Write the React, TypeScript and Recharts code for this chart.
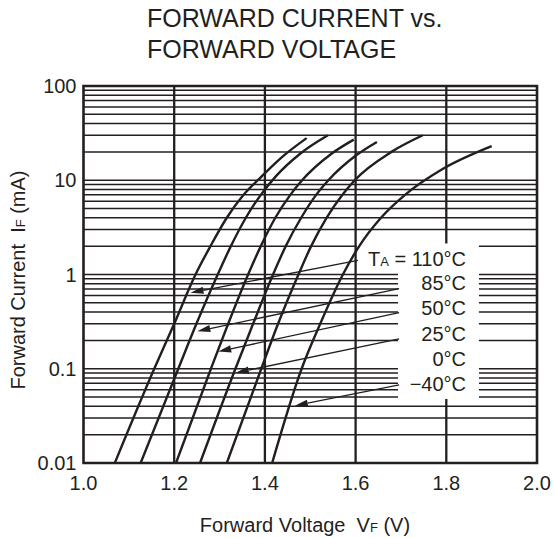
import { LineChart, Line, XAxis, YAxis, ReferenceLine, ReferenceArea } from "recharts";

const INK = "#231f20";
const FONT = "'Liberation Sans', Arial, Helvetica, sans-serif";

// axis ticks
const voltTicks = [1.0, 1.2, 1.4, 1.6, 1.8, 2.0];
const voltGrid = [1.2, 1.4, 1.6, 1.8];
const currentTicks = [0.01, 0.1, 1, 10, 100];
const currentGrid = [
  0.02, 0.03, 0.04, 0.05, 0.06, 0.07, 0.08, 0.09, 0.1,
  0.2, 0.3, 0.4, 0.5, 0.6, 0.7, 0.8, 0.9, 1,
  2, 3, 4, 5, 6, 7, 8, 9, 10,
  20, 30, 40, 50, 60, 70, 80, 90,
];

// forward voltage (V) vs forward current (mA), one array per ambient temperature
const ta110 = [
  { v: 1.069, i: 0.01 }, { v: 1.156, i: 0.1 }, { v: 1.2, i: 0.3 }, { v: 1.247, i: 1 },
  { v: 1.28, i: 2 }, { v: 1.316, i: 4 }, { v: 1.353, i: 7 }, { v: 1.393, i: 11 },
  { v: 1.437, i: 17.5 }, { v: 1.492, i: 28 },
];
const ta85 = [
  { v: 1.126, i: 0.01 }, { v: 1.209, i: 0.1 }, { v: 1.249, i: 0.3 }, { v: 1.296, i: 1 },
  { v: 1.325, i: 2 }, { v: 1.358, i: 4 }, { v: 1.391, i: 7 }, { v: 1.424, i: 11 },
  { v: 1.477, i: 19 }, { v: 1.539, i: 30 },
];
const ta50 = [
  { v: 1.204, i: 0.01 }, { v: 1.281, i: 0.1 }, { v: 1.319, i: 0.3 }, { v: 1.363, i: 1 },
  { v: 1.391, i: 2 }, { v: 1.423, i: 4 }, { v: 1.456, i: 7 }, { v: 1.482, i: 10 },
  { v: 1.546, i: 19 }, { v: 1.596, i: 27 },
];
const ta25 = [
  { v: 1.257, i: 0.01 }, { v: 1.335, i: 0.1 }, { v: 1.374, i: 0.3 }, { v: 1.418, i: 1 },
  { v: 1.446, i: 2 }, { v: 1.48, i: 4 }, { v: 1.513, i: 7 }, { v: 1.54, i: 10 },
  { v: 1.602, i: 18.5 }, { v: 1.647, i: 25.5 },
];
const ta0 = [
  { v: 1.316, i: 0.01 }, { v: 1.392, i: 0.1 }, { v: 1.429, i: 0.3 }, { v: 1.474, i: 1 },
  { v: 1.502, i: 2 }, { v: 1.536, i: 4 }, { v: 1.571, i: 7 }, { v: 1.598, i: 10 },
  { v: 1.679, i: 20 }, { v: 1.748, i: 30 },
];
const taMinus40 = [
  { v: 1.416, i: 0.01 }, { v: 1.481, i: 0.1 }, { v: 1.522, i: 0.3 }, { v: 1.572, i: 1 },
  { v: 1.608, i: 2 }, { v: 1.656, i: 4 }, { v: 1.709, i: 7 }, { v: 1.79, i: 13 },
  { v: 1.9, i: 23 },
];
const curves = [ta110, ta85, ta50, ta25, ta0, taMinus40];

// leader lines: label end -> arrow tip on the curve
const leaders = [
  [{ x: 1.605, y: 1.41 }, { x: 1.236, y: 0.64 }],
  [{ x: 1.696, y: 0.71 }, { x: 1.251, y: 0.25 }],
  [{ x: 1.696, y: 0.394 }, { x: 1.297, y: 0.152 }],
  [{ x: 1.696, y: 0.208 }, { x: 1.336, y: 0.0906 }],
  [{ x: 1.696, y: 0.0675 }, { x: 1.466, y: 0.0405 }],
];
const tempLabels = ["85°C", "50°C", "25°C", "0°C", "−40°C"];

const Leader = (props: any) => {
  const { x1, y1, x2, y2 } = props;
  const ang = Math.atan2(y2 - y1, x2 - x1);
  const len = 13;
  const half = 3.6;
  const bx = x2 - len * Math.cos(ang);
  const by = y2 - len * Math.sin(ang);
  const px = -Math.sin(ang) * half;
  const py = Math.cos(ang) * half;
  return (
    <g>
      <line x1={x1} y1={y1} x2={bx} y2={by} stroke={INK} strokeWidth={1.3} />
      <polygon points={`${x2},${y2} ${bx + px},${by + py} ${bx - px},${by - py}`} fill={INK} />
    </g>
  );
};

export default function App() {
  return (
    <div style={{ position: "absolute", left: 0, top: 0, width: 555, height: 538, background: "#fff" }}>
      <LineChart width={555} height={538} margin={{ top: 86, right: 18, left: 0, bottom: 0 }}>
        <XAxis
          type="number"
          dataKey="v"
          domain={[1, 2]}
          ticks={voltTicks}
          allowDataOverflow
          height={75}
          tickSize={0}
          tickMargin={13}
          axisLine={false}
          tickLine={false}
          tickFormatter={(v: number) => v.toFixed(1)}
          tick={{ fontSize: 20, fill: INK, fontFamily: FONT }}
        />
        <YAxis
          type="number"
          scale="log"
          domain={[0.01, 100]}
          ticks={currentTicks}
          allowDataOverflow
          width={83.5}
          tickSize={0}
          tickMargin={7}
          axisLine={false}
          tickLine={false}
          tickFormatter={(v: number) => String(v)}
          tick={{ fontSize: 20, fill: INK, fontFamily: FONT }}
        />
        {currentGrid.map((c) => (
          <ReferenceLine key={`h${c}`} y={c} stroke={INK} strokeWidth={1.5} zIndex={-60} />
        ))}
        {voltGrid.map((v) => (
          <ReferenceLine key={`v${v}`} x={v} stroke={INK} strokeWidth={2.3} zIndex={-50} />
        ))}
        <ReferenceArea x1={1.603} x2={1.872} y1={1.443} y2={2.137} fill="#fff" fillOpacity={1} stroke="none" zIndex={-40} />
        <ReferenceArea x1={1.6935} x2={1.872} y1={0.0479} y2={1.45} fill="#fff" fillOpacity={1} stroke="none" zIndex={-40} />
        {curves.map((d, k) => (
          <Line
            key={k}
            data={d}
            dataKey="i"
            type="monotone"
            stroke={INK}
            strokeWidth={2.4}
            dot={false}
            activeDot={false}
            isAnimationActive={false}
          />
        ))}
        {leaders.map((seg, k) => (
          <ReferenceLine key={`l${k}`} segment={seg} shape={Leader} zIndex={450} />
        ))}
        <ReferenceArea x1={1} x2={2} y1={0.01} y2={100} fill="none" stroke={INK} strokeWidth={2.6} zIndex={460} />
      </LineChart>
      <svg
        width={555}
        height={538}
        style={{ position: "absolute", left: 0, top: 0, pointerEvents: "none" }}
        fontFamily={FONT}
        fill={INK}
      >
        <text x={147} y={27} fontSize={25}>FORWARD CURRENT vs.</text>
        <text x={147} y={58} fontSize={25}>FORWARD VOLTAGE</text>
        <text x={305} y={532} fontSize={20} textAnchor="middle">
          {"Forward Voltage\u00a0 V"}<tspan fontSize={13}>F</tspan> (V)
        </text>
        <text x={25} y={280} fontSize={20} textAnchor="middle" transform="rotate(-90 25 280)">
          {"Forward Current\u00a0 I"}<tspan fontSize={13}>F</tspan> (mA)
        </text>
        <text x={466} y={266} fontSize={20} textAnchor="end">
          T<tspan fontSize={13}>A</tspan> = 110°C
        </text>
        {tempLabels.map((t, k) => (
          <text key={t} x={466} y={[290, 315, 340.5, 365.5, 391][k]} fontSize={20} textAnchor="end">
            {t}
          </text>
        ))}
      </svg>
    </div>
  );
}
